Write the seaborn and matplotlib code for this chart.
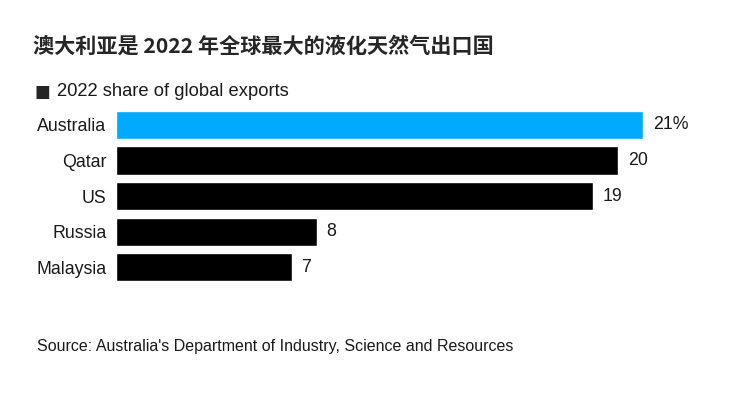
import matplotlib
matplotlib.use("Agg")
import matplotlib.pyplot as plt
import seaborn as sns
import pandas as pd

# data
countries = ["Australia", "Qatar", "US", "Russia", "Malaysia"]
share = [21, 20, 19, 8, 7]
value_labels = ["21%", "20", "19", "8", "7"]
bar_colors = ["#00aaff", "#000000", "#000000", "#000000", "#000000"]

title = "澳大利亚是 2022 年全球最大的液化天然气出口国"
legend_text = "2022 share of global exports"
source = "Source: Australia's Department of Industry, Science and Resources"

df = pd.DataFrame({"country": countries, "share": share})

sns.set_style("white")
plt.rcParams["font.family"] = ["Liberation Sans", "DejaVu Sans"]

fig = plt.figure(figsize=(7.43, 3.95), dpi=100)
ax = fig.add_axes([116 / 743, 0.278, 0.81, 0.451])

sns.barplot(data=df, x="share", y="country", hue="country", palette=bar_colors,
            order=countries, width=0.79, legend=False, ax=ax, saturation=1)

ax.set_xlim(0, 23.98)
ax.set_xticks([])
ax.set_xlabel("")
ax.set_ylabel("")
ax.tick_params(axis="y", length=0, pad=7, labelsize=12.8, labelcolor="#1a1a1a")
for s in ax.spines.values():
    s.set_visible(False)

for i, (v, lab) in enumerate(zip(share, value_labels)):
    ax.annotate(lab, (v, i), xytext=(7, 0), textcoords="offset points",
                va="center", ha="left", fontsize=12.8, color="#1a1a1a")

fig.text(33 / 743, 1 - 46 / 395, title, fontsize=15.2, fontweight="bold",
         va="center", ha="left", family=["Noto Sans CJK SC", "DejaVu Sans"])
fig.text(35 / 743, 1 - 91.5 / 395, "■", fontsize=12, va="center", ha="left",
         family=["DejaVu Sans"])
fig.text(57 / 743, 1 - 91.5 / 395, legend_text, fontsize=13.2, va="center",
         ha="left", color="#1a1a1a")
fig.text(37 / 743, 1 - 347 / 395, source, fontsize=11.5, va="center",
         ha="left", color="#1a1a1a")

fig.savefig("out.png", dpi=100)
